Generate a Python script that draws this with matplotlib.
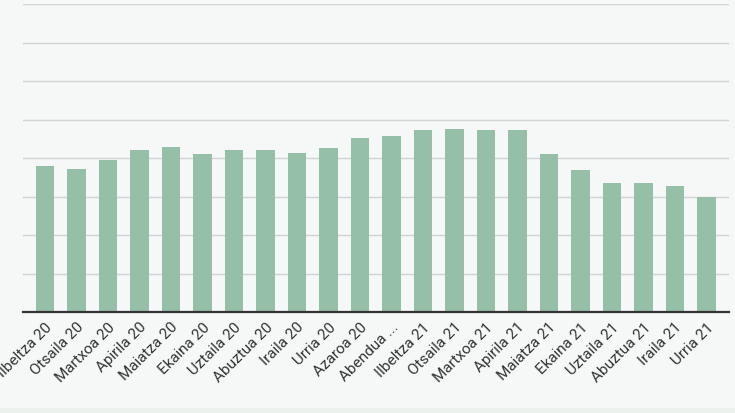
import matplotlib
matplotlib.use("Agg")
import matplotlib.pyplot as plt
from matplotlib.patches import Rectangle

categories = ["Ilbeltza 20", "Otsaila 20", "Martxoa 20", "Apirila 20", "Maiatza 20",
              "Ekaina 20", "Uztaila 20", "Abuztua 20", "Iraila 20", "Urria 20",
              "Azaroa 20", "Abendua ...", "Ilbeltza 21", "Otsaila 21", "Martxoa 21",
              "Apirila 21", "Maiatza 21", "Ekaina 21", "Uztaila 21", "Abuztua 21",
              "Iraila 21", "Urria 21"]
values = [3.80, 3.71, 3.94, 4.20, 4.29, 4.10, 4.20, 4.20, 4.14, 4.26,
          4.53, 4.56, 4.73, 4.76, 4.73, 4.73, 4.10, 3.68, 3.35, 3.35, 3.28, 2.99]
y_ticks = [0, 1, 2, 3, 4, 5, 6, 7, 8]

plt.rcParams['font.family'] = ['Roboto', 'DejaVu Sans']

bg = "#f5f8f6"
fig = plt.figure(figsize=(7.35, 4.13), dpi=100, facecolor=bg)
fig.patches.append(Rectangle((0, 0), 1, 5/413, transform=fig.transFigure,
                             facecolor="#edf1ee", edgecolor="none", zorder=0))
ax = fig.add_axes([23/735, 101/413, 706/735, 308/413])
ax.set_facecolor(bg)

x = list(range(len(categories)))
ax.bar(x, values, width=0.59, color="#96bfa8", zorder=3)

ax.set_xlim(-0.70, len(categories) - 1 + 0.72)
ax.set_ylim(0, 8)
ax.set_yticks(y_ticks)
ax.yaxis.grid(True, color="#d3d3d3", linewidth=1.0, zorder=0)
ax.tick_params(axis='y', length=0, labelleft=False)
ax.tick_params(axis='x', length=0, pad=6)
ax.set_xticks(x)
ax.set_xticklabels(categories, rotation=45, ha='right', rotation_mode='anchor',
                   fontsize=11, color="#333333")
for s in ['left', 'right', 'top']:
    ax.spines[s].set_visible(False)
ax.spines['bottom'].set_color("#333333")
ax.spines['bottom'].set_linewidth(1.6)
ax.spines['bottom'].set_zorder(4)

fig.savefig("out.png", dpi=100, facecolor=bg)
